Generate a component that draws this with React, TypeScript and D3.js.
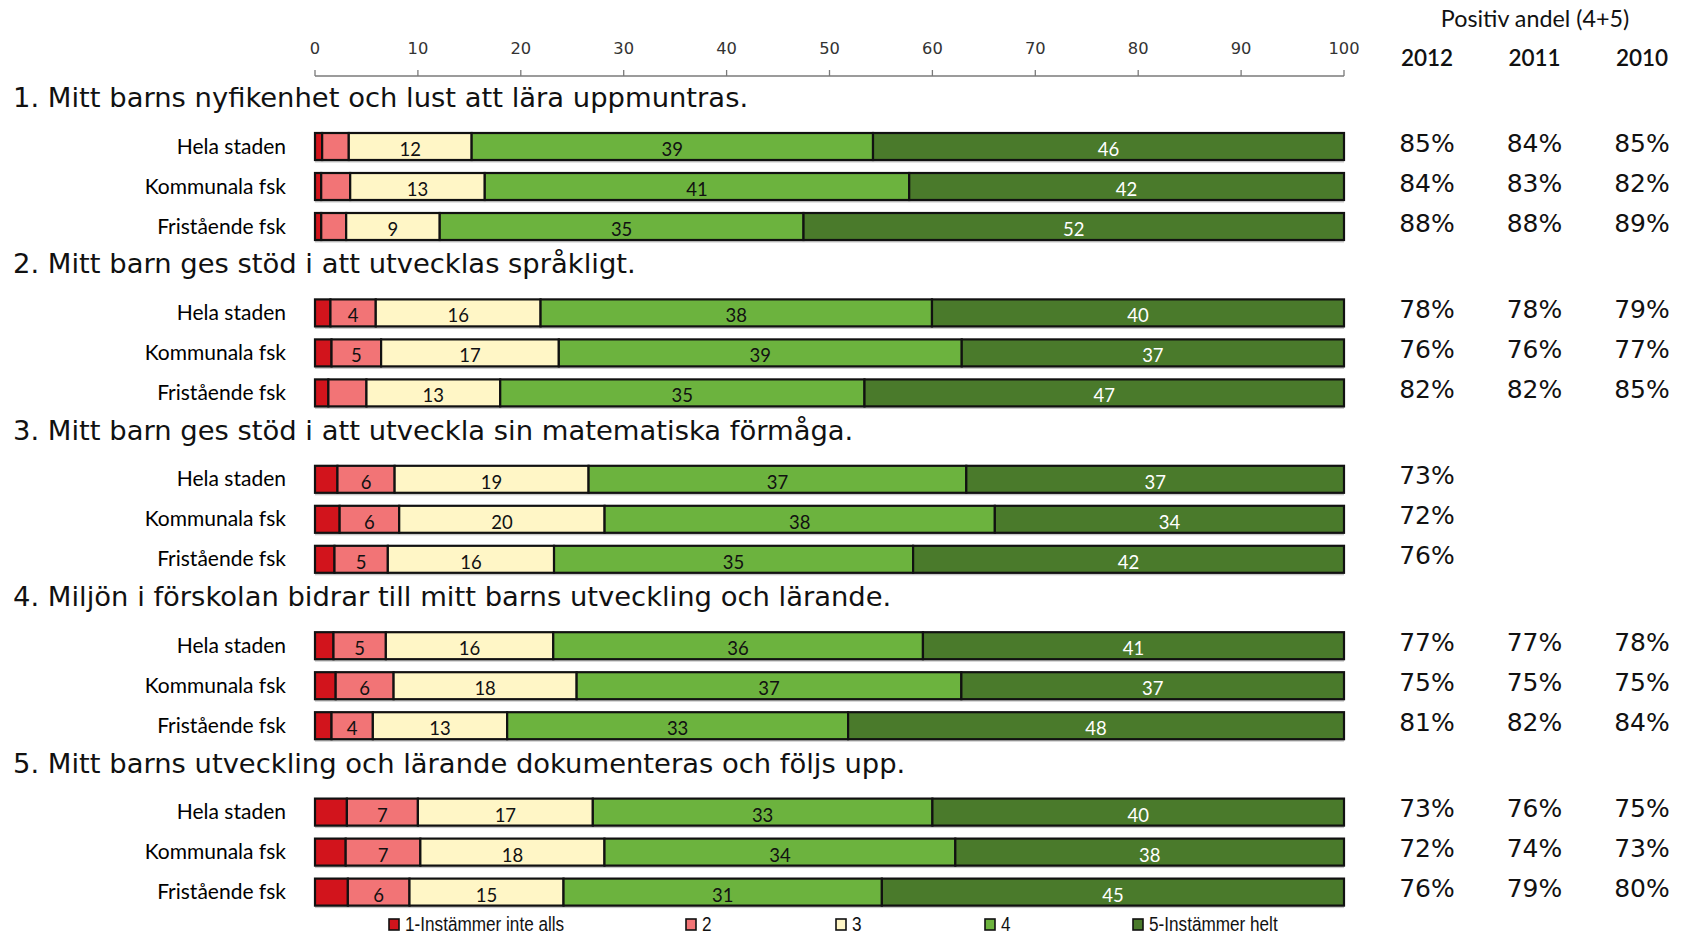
import React from "react";
import * as d3 from "d3";

// ---------- data ----------
const questions = [
  "1. Mitt barns nyfikenhet och lust att lära uppmuntras.",
  "2. Mitt barn ges stöd i att utvecklas språkligt.",
  "3. Mitt barn ges stöd i att utveckla sin matematiska förmåga.",
  "4. Miljön i förskolan bidrar till mitt barns utveckling och lärande.",
  "5. Mitt barns utveckling och lärande dokumenteras och följs upp.",
];
const rowLabels = ["Hela staden", "Kommunala fsk", "Fristående fsk"];
const levelNames = ["1-Instämmer inte alls", "2", "3", "4", "5-Instämmer helt"];

// one value per bar, in order Q1(H,K,F), Q2(H,K,F), ...
const level1 = [0.7, 0.6, 0.6, 1.5, 1.6, 1.3, 2.2, 2.4, 1.9, 1.8, 2.0, 1.6, 3.1, 3.0, 3.2];
const level2 = [2.6, 2.8, 2.4, 4.4, 4.8, 3.7, 5.6, 5.8, 5.2, 5.1, 5.6, 4.0, 6.9, 7.3, 6.0];
const level3 = [12, 13, 9, 16, 17.2, 13, 19, 20, 16.2, 16.3, 17.7, 13, 17, 18, 15];
const level4 = [39.2, 41, 35, 38, 39, 35.4, 37, 38, 35, 36, 37.2, 33, 33, 34.3, 31];
const level5 = [46, 42, 52, 40, 37, 46.6, 37, 34, 42, 41, 37, 48, 40, 38, 45];

const years = ["2012", "2011", "2010"];
const pos2012 = [85, 84, 88, 78, 76, 82, 73, 72, 76, 77, 75, 81, 73, 72, 76];
const pos2011 = [84, 83, 88, 78, 76, 82, null, null, null, 77, 75, 82, 76, 74, 79];
const pos2010 = [85, 82, 89, 79, 77, 85, null, null, null, 78, 75, 84, 75, 73, 80];

const colors = ["#d2141c", "#f27476", "#fff6c6", "#6cb33e", "#4a7a2b"];
const labelColors = ["#000", "#111", "#111", "#111", "#fff"];

// ---------- layout ----------
const W = 1682;
const H = 934;
const x = d3.scaleLinear().domain([0, 100]).range([315, 1344]);
const groupTop0 = 133;
const groupStep = 166.4;
const rowStep = 40;
const barH = 27;
const yBar = (q: number, r: number) => groupTop0 + q * groupStep + r * rowStep;
const yearX = d3.scalePoint<string>().domain(years).range([1427, 1642]);
const legendX = d3.scaleOrdinal<string, number>().domain(levelNames).range([389, 686, 836, 985, 1133]);

const TITLE_FONT = "'DejaVu Sans', Verdana, sans-serif";
const LABEL_FONT = "Lato, 'Open Sans', sans-serif";

export default function App() {
  const levels = [level1, level2, level3, level4, level5];
  const posCols = [pos2012, pos2011, pos2010];
  const bars = level1.map((_, i) => {
    const vals = levels.map((l) => l[i]);
    const total = d3.sum(vals);
    const stack = d3.cumsum(vals).map((c) => (c / total) * 100);
    return { vals, stack, total };
  });

  return (
    <svg
      width={W}
      height={H}
      viewBox={`0 0 ${W} ${H}`}
      style={{ position: "absolute", left: 0, top: 0, display: "block", background: "#fff" }}
    >
      {/* axis */}
      <g>
        <line x1={x(0)} x2={x(100)} y1={76} y2={76} stroke="#7a7a7a" strokeWidth={1.5} />
        {x.ticks(10).map((t) => (
          <g key={t}>
            <line x1={x(t)} x2={x(t)} y1={70} y2={76} stroke="#7a7a7a" strokeWidth={1.3} />
            <text
              x={x(t)}
              y={53.5}
              textAnchor="middle"
              fontFamily={TITLE_FONT}
              fontSize={16.3}
              fill="#333"
            >
              {t}
            </text>
          </g>
        ))}
      </g>

      {/* header */}
      <text x={1535} y={27} textAnchor="middle" fontFamily={LABEL_FONT} fontSize={23.3} fill="#111">
        Positiv andel (4+5)
      </text>
      {years.map((yr) => (
        <text key={yr} x={yearX(yr)} y={66} textAnchor="middle" fontFamily={LABEL_FONT} fontSize={22.5} fontWeight={600} fill="#111">
          {yr}
        </text>
      ))}

      {questions.map((q, qi) => (
        <g key={qi}>
          <text x={13} y={yBar(qi, 0) - 26} fontFamily={TITLE_FONT} fontSize={27.4} fill="#111">
            {q}
          </text>
          {rowLabels.map((rl, ri) => {
            const i = qi * 3 + ri;
            const b = bars[i];
            const top = yBar(qi, ri);
            const cy = top + barH / 2;
            return (
              <g key={ri}>
                <text x={286} y={cy + 7} textAnchor="end" fontFamily={LABEL_FONT} fontSize={21} fill="#000">
                  {rl}
                </text>
                <rect x={x(0)} y={top + 2.5} width={x(100) - x(0)} height={barH} fill="#c8c8c8" />
                {b.vals.map((v, li) => {
                  const x0 = x(li === 0 ? 0 : b.stack[li - 1]);
                  const x1 = x(b.stack[li]);
                  return (
                    <rect
                      key={li}
                      x={x0}
                      y={top}
                      width={x1 - x0}
                      height={barH}
                      fill={colors[li]}
                      stroke="#111"
                      strokeWidth={2.2}
                    />
                  );
                })}
                {b.vals.map((v, li) => {
                  if (li === 0 || v < 3.9) return null;
                  const x0 = x(b.stack[li - 1]);
                  const x1 = x(b.stack[li]);
                  return (
                    <text
                      key={"l" + li}
                      x={(x0 + x1) / 2}
                      y={cy + 9.5}
                      textAnchor="middle"
                      fontFamily={LABEL_FONT}
                      fontSize={18.5}
                      fill={labelColors[li]}
                    >
                      {Math.round(v)}
                    </text>
                  );
                })}
                {posCols.map((col, ci) =>
                  col[i] == null ? null : (
                    <text
                      key={"p" + ci}
                      x={yearX(years[ci])}
                      y={cy + 5}
                      textAnchor="middle"
                      fontFamily={TITLE_FONT}
                      fontSize={25}
                      fill="#111"
                    >
                      {col[i]}%
                    </text>
                  )
                )}
              </g>
            );
          })}
        </g>
      ))}

      {/* legend */}
      {levelNames.map((name, li) => {
        const lx = legendX(name);
        return (
          <g key={name}>
            <rect x={lx} y={919} width={10} height={11} fill={colors[li]} stroke="#111" strokeWidth={1.6} />
            <text
              transform={`translate(${lx + 16},931) scale(0.88,1)`}
              fontFamily="'Liberation Sans', Arial, sans-serif"
              fontSize={19.5}
              fill="#111"
            >
              {name}
            </text>
          </g>
        );
      })}
    </svg>
  );
}
